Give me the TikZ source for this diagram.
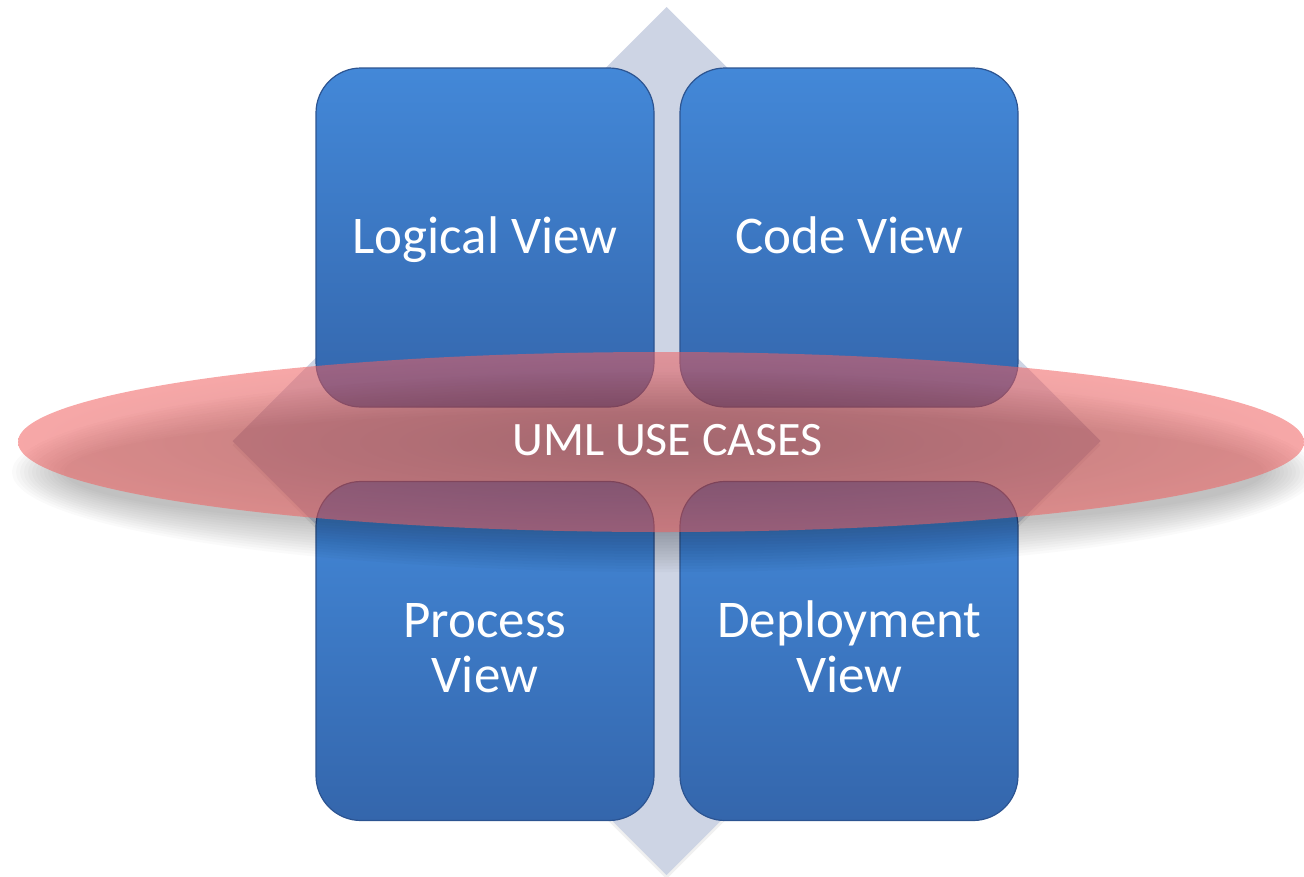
\documentclass[tikz,border=0pt]{standalone}
\usepackage{fontspec}
\setmainfont{Carlito}
\definecolor{diamondcol}{RGB}{205,212,228}
\definecolor{boxtop}{RGB}{67,136,216}
\definecolor{boxbot}{RGB}{52,102,172}
\definecolor{boxedge}{RGB}{44,84,145}
\definecolor{ellin}{RGB}{175,62,66}
\definecolor{ellout}{RGB}{240,95,95}
\begin{document}
\begin{tikzpicture}[x=1pt,y=-1pt,
  viewbox/.style={rectangle, rounded corners=45pt, minimum width=338pt,
    minimum height=339pt, top color=boxtop, bottom color=boxbot,
    draw=boxedge, line width=1.2pt, inner sep=0pt},
  viewtext/.style={text=white, inner sep=0pt, anchor=base,
    font=\fontsize{53}{55}\selectfont},
  usecase/.style={text=white, inner sep=0pt, anchor=base,
    font=\fontsize{48}{50}\selectfont}
 ]
\useasboundingbox (0,0) rectangle (1304,876);
% background diamond
\coordinate (dtop) at (666.5,7);
\coordinate (dright) at (1100.5,441);
\coordinate (dbot) at (666.5,875);
\coordinate (dleft) at (232.5,441);
\fill[black, opacity=0.06] ([yshift=-4pt]dtop) -- ([yshift=-4pt]dright) -- ([yshift=-4pt]dbot) -- ([yshift=-4pt]dleft) -- cycle;
\fill[diamondcol] (dtop) -- (dright) -- (dbot) -- (dleft) -- cycle;
% boxes
\node[viewbox] (logical) at (485,237.5) {};
\node[viewbox] (code) at (849,237.5) {};
\node[viewbox] (process) at (485,651) {};
\node[viewbox] (deploy) at (849,651) {};
\node[viewtext] (logicalt) at (485,253) {Logical View};
\node[viewtext] (codet) at (849.5,253) {Code View};
\node[viewtext] (processt1) at (485,637) {Process};
\node[viewtext] (processt2) at (485,692) {View};
\node[viewtext] (deployt1) at (849.5,637) {Deployment};
\node[viewtext] (deployt2) at (849.5,692) {View};
% shadow of ellipse
\foreach \i in {0,...,13} {
  \fill[black, opacity=0.018] (664,472) ellipse [x radius={652-\i*4}, y radius={100-\i*3}];
}
% ellipse
\path[shading=radial, inner color=ellin, outer color=ellout, fill opacity=0.55]
  (661,442) ellipse [x radius=643, y radius=90];
\node[usecase] (uml) at (667.5,455) {UML USE CASES};
\end{tikzpicture}
\end{document}
